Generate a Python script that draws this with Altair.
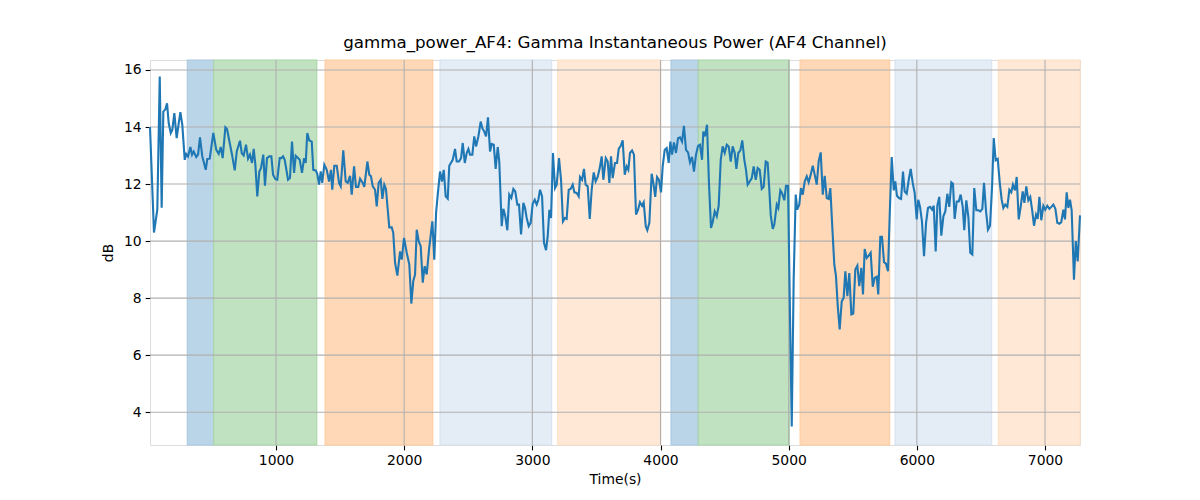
import altair as alt
import pandas as pd

# ---- data ----
time_s = [
    17, 48, 74, 93, 108, 121, 137, 150, 163, 179, 191, 207, 225, 241, 254, 269, 288, 300, 314, 332,
    345, 358, 378, 392, 407, 425, 452, 464, 483, 511, 534, 553, 569, 584, 605, 618, 639, 657, 678, 694,
    719, 733, 748, 766, 782, 797, 813, 826, 839, 854, 870, 883, 901, 914, 930, 948, 964, 977, 995, 1010,
    1029, 1042, 1055, 1068, 1094, 1109, 1125, 1141, 1154, 1172, 1185, 1203, 1219, 1232, 1244, 1260, 1279, 1291, 1310, 1322,
    1336, 1349, 1361, 1377, 1396, 1414, 1429, 1439, 1455, 1474, 1492, 1505, 1525, 1544, 1560, 1578, 1591, 1609, 1624, 1642,
    1656, 1677, 1689, 1713, 1728, 1741, 1755, 1773, 1786, 1801, 1817, 1830, 1845, 1858, 1872, 1884, 1903, 1915, 1929, 1947,
    1968, 1981, 1999, 2020, 2040, 2056, 2071, 2085, 2098, 2114, 2129, 2145, 2160, 2176, 2194, 2220, 2235, 2249, 2262, 2280,
    2295, 2309, 2324, 2340, 2352, 2379, 2397, 2410, 2428, 2444, 2457, 2473, 2488, 2501, 2514, 2532, 2547, 2561, 2579, 2597,
    2610, 2625, 2639, 2654, 2670, 2683, 2699, 2714, 2730, 2742, 2761, 2774, 2789, 2805, 2820, 2836, 2852, 2867, 2883, 2896,
    2912, 2930, 2943, 2956, 2972, 2987, 3003, 3019, 3034, 3047, 3060, 3076, 3091, 3107, 3120, 3133, 3146, 3161, 3177, 3190,
    3208, 3224, 3239, 3255, 3268, 3284, 3299, 3315, 3328, 3346, 3362, 3372, 3388, 3403, 3416, 3432, 3448, 3463, 3479, 3494,
    3510, 3526, 3541, 3554, 3573, 3588, 3601, 3614, 3627, 3645, 3661, 3674, 3690, 3705, 3721, 3736, 3749, 3762, 3778, 3793,
    3809, 3825, 3840, 3856, 3869, 3885, 3897, 3913, 3931, 3944, 3959, 3973, 3988, 4004, 4017, 4033, 4048, 4064, 4077, 4090,
    4105, 4121, 4137, 4152, 4168, 4183, 4199, 4215, 4230, 4246, 4261, 4277, 4293, 4308, 4324, 4334, 4347, 4363, 4378, 4394,
    4407, 4423, 4439, 4454, 4470, 4485, 4501, 4517, 4532, 4548, 4563, 4579, 4592, 4607, 4623, 4638, 4654, 4667, 4680, 4696,
    4712, 4727, 4743, 4758, 4774, 4790, 4805, 4821, 4836, 4849, 4860, 4876, 4888, 4907, 4919, 4935, 4948, 4966, 4979, 4995,
    5010, 5024, 5039, 5055, 5067, 5083, 5096, 5110, 5125, 5141, 5156, 5172, 5188, 5203, 5219, 5234, 5250, 5266, 5281, 5297,
    5312, 5325, 5340, 5356, 5369, 5383, 5398, 5414, 5429, 5442, 5458, 5473, 5489, 5504, 5520, 5536, 5551, 5567, 5580, 5593,
    5609, 5624, 5640, 5656, 5671, 5687, 5699, 5715, 5728, 5744, 5759, 5775, 5788, 5804, 5820, 5832, 5845, 5861, 5877, 5892,
    5905, 5921, 5937, 5952, 5968, 5983, 5999, 6011, 6025, 6040, 6056, 6072, 6087, 6103, 6119, 6132, 6147, 6160, 6175, 6191,
    6207, 6222, 6238, 6253, 6269, 6282, 6295, 6311, 6327, 6342, 6358, 6370, 6386, 6402, 6417, 6433, 6448, 6464, 6480, 6495,
    6511, 6524, 6540, 6555, 6571, 6587, 6600, 6615, 6631, 6647, 6662, 6675, 6690, 6706, 6722, 6737, 6750, 6766, 6779, 6795,
    6810, 6826, 6839, 6854, 6870, 6885, 6901, 6914, 6930, 6943, 6956, 6971, 6987, 7002, 7018, 7034, 7049, 7065, 7081, 7096,
    7112, 7127, 7143, 7156, 7169, 7182, 7195, 7208, 7226, 7240, 7255, 7273,
]

gamma_db = [
    14.0, 10.3, 11.1, 15.77, 11.17, 14.54, 14.62, 14.83, 14.13, 13.79, 13.9, 14.49, 13.61, 14.13, 14.52, 14.08, 12.85, 13.05, 12.97, 13.3,
    13.03, 13.14, 12.95, 13.03, 13.64, 12.97, 12.5, 12.88, 12.89, 13.79, 13.2, 13.06, 13.3, 12.91, 13.99, 13.93, 13.44, 13.03, 12.48, 13.14,
    13.52, 13.08, 13.0, 13.38, 12.89, 13.03, 12.74, 13.23, 12.68, 11.57, 12.44, 12.56, 13.03, 11.94, 12.91, 12.97, 12.97, 12.33, 12.18, 12.15,
    12.91, 12.91, 12.97, 12.85, 12.15, 12.21, 13.49, 12.39, 12.99, 12.91, 12.85, 12.39, 12.91, 12.74, 13.79, 13.53, 13.49, 12.5, 12.48, 12.36,
    11.98, 12.44, 12.04, 12.68, 12.5, 12.09, 12.5, 11.8, 12.64, 12.64, 12.04, 11.92, 13.18, 12.09, 12.04, 12.29, 11.63, 12.62, 11.9, 11.9,
    12.19, 12.04, 11.9, 12.79, 12.33, 12.27, 11.92, 11.8, 11.22, 12.04, 12.15, 11.48, 11.98, 11.83, 11.1, 10.48, 10.48, 10.29, 9.24, 8.79,
    9.64, 9.35, 10.11, 9.59, 9.18, 7.81, 8.59, 8.83, 10.4, 9.99, 9.82, 8.54, 9.12, 8.83, 9.7, 10.69, 9.35, 10.99, 11.63, 12.44,
    12.09, 12.5, 11.57, 11.49, 12.64, 12.85, 13.23, 12.79, 12.79, 12.91, 13.44, 12.74, 13.09, 13.23, 13.03, 13.03, 13.67, 13.32, 13.67, 14.19,
    13.96, 13.84, 13.67, 14.34, 13.14, 13.41, 13.38, 12.53, 13.3, 12.79, 10.52, 11.13, 10.87, 10.38, 11.63, 11.51, 11.83, 11.74, 11.28, 11.28,
    10.23, 11.34, 11.16, 10.81, 10.52, 10.64, 11.31, 11.45, 11.28, 11.45, 11.8, 11.57, 9.94, 9.68, 10.17, 11.1, 10.81, 13.09, 11.86, 11.98,
    12.91, 12.15, 10.69, 10.81, 10.78, 11.8, 11.83, 11.98, 11.71, 11.69, 11.57, 12.25, 12.15, 12.53, 11.98, 11.92, 10.78, 11.8, 12.41, 12.09,
    12.25, 12.56, 12.97, 12.15, 12.91, 12.79, 12.04, 12.97, 12.21, 12.74, 12.74, 13.23, 13.34, 13.53, 12.33, 12.62, 12.5, 13.09, 13.18, 13.03,
    10.93, 11.1, 11.36, 11.24, 11.36, 10.52, 10.38, 10.64, 12.36, 12.04, 11.55, 12.25, 12.15, 11.71, 12.62, 13.2, 13.26, 12.74, 13.49, 13.03,
    13.46, 13.09, 13.61, 13.64, 13.49, 14.04, 13.2, 13.11, 12.76, 12.95, 12.44, 13.03, 13.34, 13.38, 12.85, 13.84, 13.67, 14.08, 12.04, 10.46,
    10.66, 11.04, 10.87, 11.24, 12.85, 13.32, 13.09, 13.38, 13.32, 12.79, 13.32, 13.09, 12.53, 13.09, 13.18, 13.53, 12.85, 12.5, 11.98, 12.09,
    12.21, 12.62, 12.15, 12.56, 12.5, 11.83, 11.9, 12.79, 12.75, 11.8, 10.9, 10.43, 10.58, 11.28, 11.16, 11.78, 11.69, 11.43, 11.94, 11.94,
    7.49, 3.5, 8.65, 11.63, 11.1, 11.28, 11.86, 11.63, 12.09, 12.27, 12.06, 12.33, 12.64, 12.33, 11.98, 12.79, 13.11, 11.63, 12.29, 11.51,
    11.48, 11.86, 10.52, 9.18, 8.77, 7.72, 6.9, 7.89, 8.01, 8.94, 8.07, 8.88, 7.43, 7.46, 9.0, 9.14, 8.42, 9.06, 8.13, 9.72,
    9.41, 9.49, 9.59, 8.4, 8.71, 8.75, 8.13, 10.15, 10.15, 9.26, 9.21, 8.94, 10.87, 12.95, 11.78, 12.09, 11.59, 11.51, 11.48, 12.44,
    11.74, 11.66, 12.15, 12.53, 12.04, 11.69, 10.76, 11.45, 11.2, 10.68, 9.47, 10.64, 11.16, 11.2, 11.1, 11.24, 9.64, 11.24, 11.55, 10.19,
    10.87, 11.04, 11.66, 11.2, 12.06, 12.01, 10.78, 11.39, 11.39, 11.63, 11.2, 10.38, 11.43, 10.84, 9.59, 9.53, 11.86, 11.08, 11.08, 11.04,
    11.13, 12.04, 11.04, 10.4, 10.54, 11.92, 13.61, 12.83, 12.88, 12.04, 11.45, 11.16, 11.28, 11.2, 11.8, 11.71, 11.98, 11.78, 12.25, 10.76,
    11.2, 11.74, 11.34, 11.92, 11.43, 11.55, 11.04, 10.54, 10.93, 10.78, 11.55, 10.73, 11.24, 11.1, 11.24, 11.13, 11.2, 11.28, 11.13, 10.64,
    10.61, 10.66, 11.1, 10.76, 11.71, 11.16, 11.45, 11.08, 8.65, 10.0, 9.29, 10.9,
]

span_start = [308, 514, 1383, 2280, 3198, 4082, 4295, 5089, 5830, 6636]
span_end = [514, 1318, 2223, 3151, 4002, 4295, 5005, 5788, 6584, 7273]
span_kind = ["a", "b", "c", "d", "e", "a", "b", "c", "d", "e"]

kind_domain = ["a", "b", "c", "d", "e"]
kind_fill = ["#bbd5e8", "#c0e2c0", "#ffd9b7", "#e4ecf6", "#ffe9d6"]
kind_edge = ["#a8c8e0", "#a6d6a6", "#ffcc9e", "#d6e2f1", "#ffdfc4"]

x_ticks = [1000, 2000, 3000, 4000, 5000, 6000, 7000]
y_ticks = [4, 6, 8, 10, 12, 14, 16]

X_DOMAIN = [17, 7273]
Y_DOMAIN = [2.85, 16.35]

series = pd.DataFrame({"time": time_s, "db": gamma_db})
spans = pd.DataFrame({"start": span_start, "end": span_end, "kind": span_kind})
xgrid = pd.DataFrame({"time": x_ticks})
ygrid = pd.DataFrame({"db": y_ticks})

FONT = "DejaVu Sans"
xs = alt.Scale(domain=X_DOMAIN, nice=False, zero=False)
ys = alt.Scale(domain=Y_DOMAIN, nice=False, zero=False)

xaxis = alt.Axis(values=x_ticks, format="d", grid=False, domain=False,
                 tickSize=4.9, tickWidth=1.1, tickColor="black",
                 labelFont=FONT, labelFontSize=13.9, labelColor="black", labelPadding=4,
                 titleFont=FONT, titleFontSize=13.9, titleFontWeight="normal", titleColor="black",
                 titlePadding=5)
yaxis = alt.Axis(values=y_ticks, format="d", grid=False, domain=False,
                 tickSize=4.9, tickWidth=1.1, tickColor="black",
                 labelFont=FONT, labelFontSize=13.9, labelColor="black", labelPadding=4,
                 titleFont=FONT, titleFontSize=13.9, titleFontWeight="normal", titleColor="black",
                 titlePadding=8)

span_layer = alt.Chart(spans).mark_rect(strokeWidth=1.1).encode(
    x=alt.X("start:Q", scale=xs, axis=xaxis, title="Time(s)"),
    x2="end:Q",
    fill=alt.Fill("kind:N", scale=alt.Scale(domain=kind_domain, range=kind_fill), legend=None),
    stroke=alt.Stroke("kind:N", scale=alt.Scale(domain=kind_domain, range=kind_edge), legend=None),
)

vgrid = alt.Chart(xgrid).mark_rule(color="#b0b0b0", strokeWidth=1.1).encode(
    x=alt.X("time:Q", scale=xs, axis=xaxis, title="Time(s)")
)
hgrid = alt.Chart(ygrid).mark_rule(color="#b0b0b0", strokeWidth=1.1).encode(
    y=alt.Y("db:Q", scale=ys, axis=yaxis, title="dB")
)

line = alt.Chart(series).mark_line(color="#1f77b4", strokeWidth=2.1).encode(
    x=alt.X("time:Q", scale=xs, axis=xaxis, title="Time(s)"),
    y=alt.Y("db:Q", scale=ys, axis=yaxis, title="dB"),
)

chart = (
    alt.layer(span_layer, vgrid, hgrid, line)
    .properties(
        width=930,
        height=385,
        title=alt.TitleParams(
            "gamma_power_AF4: Gamma Instantaneous Power (AF4 Channel)",
            font=FONT, fontSize=16.7, fontWeight="normal", color="black",
            anchor="middle", offset=8,
        ),
        autosize=alt.AutoSizeParams(type="none"),
        padding={"left": 142, "top": 52, "right": 112, "bottom": 52},
    )
    .configure_view(stroke="black", strokeWidth=1.1)
    .configure(background="white")
)

chart.save("out.html", embed_options={"renderer": "svg", "actions": False})
